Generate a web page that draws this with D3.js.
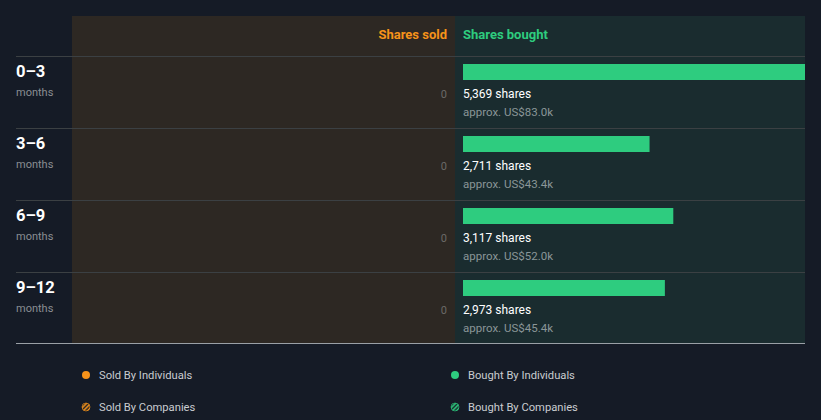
<!DOCTYPE html>
<html>
<head>
<meta charset="utf-8">
<script src="https://cdn.jsdelivr.net/npm/d3@7"></script>
<style>
  html, body { margin: 0; padding: 0; background: #151b26; }
  svg { display: block; font-family: Roboto, "Open Sans", sans-serif; }
</style>
</head>
<body>
<svg id="chart" width="821" height="420"></svg>
<script>
const periods = ["0–3", "3–6", "6–9", "9–12"];
const periodUnit = "months";
const soldShares = [0, 0, 0, 0];
const boughtShares = [5369, 2711, 3117, 2973];
const boughtValue = ["US$83.0k", "US$43.4k", "US$52.0k", "US$45.4k"];
const headers = ["Shares sold", "Shares bought"];
const legendItems = ["Sold By Individuals", "Bought By Individuals", "Sold By Companies", "Bought By Companies"];

(function () {
const svg = d3.select("#chart");
const padL = 16, padR = 805, padT = 16, padB = 343;
const soldX0 = 72, midX = 455;
const headerH = 40;
const rowH = 72;

const orange = "#f7931a", green = "#2ecc7f";

const defs = svg.append("defs");
function hatch(id, color) {
  const p = defs.append("pattern").attr("id", id).attr("patternUnits", "userSpaceOnUse")
    .attr("width", 3).attr("height", 3).attr("patternTransform", "rotate(45)");
  p.append("rect").attr("width", 3).attr("height", 3).attr("fill", "#151b26");
  p.append("rect").attr("width", 1.6).attr("height", 3).attr("fill", color);
}
hatch("hatchO", orange);
hatch("hatchG", green);

// panels
svg.append("rect").attr("x", soldX0).attr("y", padT).attr("width", midX - soldX0).attr("height", padB - padT).attr("fill", "#2d2823");
svg.append("rect").attr("x", midX).attr("y", padT).attr("width", padR - midX).attr("height", padB - padT).attr("fill", "#1a2c2f");

// headers
svg.append("text").attr("x", midX - 8).attr("y", padT + 23).attr("text-anchor", "end")
  .attr("fill", orange).attr("font-size", 13).attr("font-weight", 700).text(headers[0]);
svg.append("text").attr("x", midX + 8).attr("y", padT + 23)
  .attr("fill", green).attr("font-size", 13).attr("font-weight", 700).text(headers[1]);

const y = d3.scaleBand().domain(periods).range([padT + headerH, padT + headerH + rowH * periods.length]);
const xB = d3.scaleLinear().domain([0, d3.max(boughtShares)]).range([28, padR - (midX + 8)]);

const rows = svg.selectAll("g.row").data(periods).join("g").attr("class", "row")
  .attr("transform", d => `translate(0,${y(d)})`);

rows.append("line").attr("x1", padL).attr("x2", padR).attr("y1", 0.5).attr("y2", 0.5)
  .attr("stroke", "#3b4043").attr("stroke-width", 1);

rows.append("text").attr("x", padL).attr("y", 20.5).attr("fill", "#ffffff")
  .attr("font-size", 16.5).attr("font-weight", 700).text(d => d);
rows.append("text").attr("x", padL).attr("y", 40).attr("fill", "#8a8e93")
  .attr("font-size", 11).text(periodUnit);

rows.append("text").attr("x", midX - 8).attr("y", 42).attr("text-anchor", "end")
  .attr("fill", "#6b6a68").attr("font-size", 11).text((d, i) => soldShares[i]);

rows.append("rect").attr("x", midX + 8).attr("y", 8).attr("height", 16)
  .attr("width", (d, i) => xB(boughtShares[i])).attr("fill", green);

rows.append("text").attr("x", midX + 8).attr("y", 42).attr("fill", "#ffffff")
  .attr("font-size", 12).attr("font-weight", 400).text((d, i) => d3.format(",")(boughtShares[i]) + " shares");
rows.append("text").attr("x", midX + 8).attr("y", 60).attr("fill", "#8a9698")
  .attr("font-size", 11.5).text((d, i) => "approx. " + boughtValue[i]);

// bottom line
svg.append("line").attr("x1", padL).attr("x2", padR).attr("y1", padB + 0.5).attr("y2", padB + 0.5)
  .attr("stroke", "#9aa0a6").attr("stroke-width", 1);

// legend
const legendPos = [[86, 375], [455, 375], [86, 407], [455, 407]];
const legendFill = [orange, green, "url(#hatchO)", "url(#hatchG)"];
const lg = svg.selectAll("g.leg").data(legendItems).join("g").attr("class", "leg")
  .attr("transform", (d, i) => `translate(${legendPos[i][0]},${legendPos[i][1]})`);
lg.append("circle").attr("r", 4).attr("fill", (d, i) => legendFill[i])
  .attr("stroke", (d, i) => i >= 2 ? (i === 2 ? orange : green) : "none").attr("stroke-width", 0.6);
lg.append("text").attr("x", 13).attr("y", 4).attr("fill", "#c9ccd0").attr("font-size", 11.2).text(d => d);
})();
</script>
</body>
</html>
